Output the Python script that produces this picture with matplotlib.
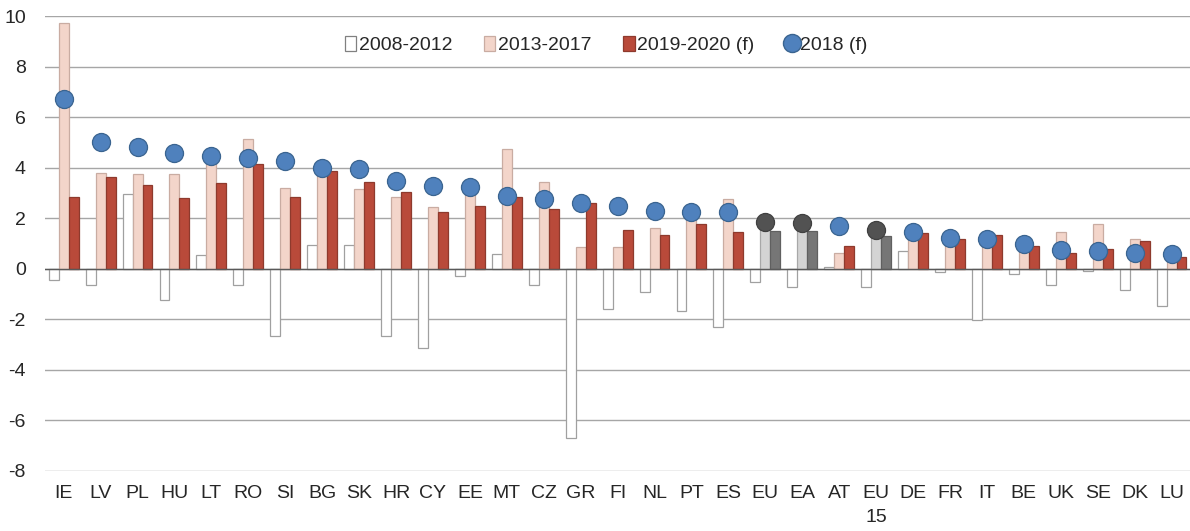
import numpy as np
import matplotlib
matplotlib.use("Agg")
import matplotlib.pyplot as plt
from matplotlib.patches import Patch
from matplotlib.lines import Line2D

plt.rcParams['font.family'] = ['Liberation Sans', 'DejaVu Sans']
plt.rcParams['axes.unicode_minus'] = False

countries = ['IE', 'LV', 'PL', 'HU', 'LT', 'RO', 'SI', 'BG', 'SK', 'HR', 'CY',
             'EE', 'MT', 'CZ', 'GR', 'FI', 'NL', 'PT', 'ES', 'EU', 'EA', 'AT',
             'EU\n15', 'DE', 'FR', 'IT', 'BE', 'UK', 'SE', 'DK', 'LU']
aggregates = ['EU', 'EA', 'EU\n15']

g_2008_2012 = [-0.44, -0.66, 2.94, -1.23, 0.53, -0.66, -2.68, 0.95, 0.95, -2.68, -3.15,
               -0.30, 0.60, -0.64, -6.70, -1.60, -0.94, -1.67, -2.32, -0.53, -0.73, 0.05,
               -0.73, 0.68, -0.13, -2.03, -0.23, -0.66, -0.10, -0.83, -1.46]
g_2013_2017 = [9.72, 3.80, 3.76, 3.76, 4.17, 5.14, 3.18, 3.90, 3.14, 2.85, 2.45,
               3.00, 4.74, 3.44, 0.86, 0.85, 1.60, 2.05, 2.77, 1.70, 1.65, 0.64,
               1.45, 1.30, 1.05, 1.20, 1.00, 1.45, 1.75, 1.19, 0.40]
g_2019_2020 = [2.85, 3.63, 3.31, 2.78, 3.40, 4.16, 2.85, 3.87, 3.42, 3.03, 2.24,
               2.49, 2.82, 2.38, 2.60, 1.55, 1.35, 1.78, 1.45, 1.51, 1.49, 0.89,
               1.28, 1.41, 1.19, 1.32, 0.91, 0.63, 0.79, 1.09, 0.45]
g_2018 = [6.73, 5.03, 4.81, 4.57, 4.45, 4.37, 4.28, 4.00, 3.93, 3.47, 3.28,
          3.25, 2.87, 2.75, 2.60, 2.50, 2.30, 2.26, 2.25, 1.84, 1.80, 1.67,
          1.54, 1.45, 1.23, 1.16, 0.99, 0.72, 0.70, 0.63, 0.60]

pink, red, blue = '#f3d5ca', '#b94a3a', '#4f81bd'
light_grey, dark_grey, dot_grey = '#d4d4d4', '#767676', '#525252'

x = np.arange(len(countries))
is_agg = np.array([c in aggregates for c in countries])
w = 0.27

fig = plt.figure(figsize=(11.9, 5.31), dpi=100)
ax = fig.add_axes([0.038, 0.1136, 0.962, 0.856])

ax.bar(x - w, g_2008_2012, w, color='white', edgecolor='#a0a0a0', linewidth=0.9, zorder=2)
ax.bar(x, g_2013_2017, w, color=np.where(is_agg, light_grey, pink),
       edgecolor=np.where(is_agg, '#a8a8a8', '#c9aca2'), linewidth=0.9, zorder=2)
ax.bar(x + w, g_2019_2020, w, color=np.where(is_agg, dark_grey, red),
       edgecolor=np.where(is_agg, '#606060', '#8e3a2d'), linewidth=0.9, zorder=2)

dots = np.array(g_2018)
ax.plot(x[~is_agg], dots[~is_agg], 'o', ms=13, color=blue, mec='#3a6490', mew=0.9,
        linestyle='none', zorder=3)
ax.plot(x[is_agg], dots[is_agg], 'o', ms=13, color=dot_grey, mec='#404040', mew=0.9,
        linestyle='none', zorder=3)

ax.set_xlim(-0.5, len(countries) - 0.5)
ax.set_ylim(-8, 10)
ax.set_yticks(np.arange(-8, 11, 2))
ax.yaxis.grid(True, color='#a6a6a6', linewidth=1.0, zorder=0)
ax.axhline(0, color='#595959', linewidth=1.0, zorder=2.5)
ax.set_axisbelow(True)
for s in ax.spines.values():
    s.set_visible(False)
ax.tick_params(length=0, labelsize=14, colors='#262626')
ax.tick_params(axis='y', pad=14)
ax.tick_params(axis='x', pad=10)
ax.set_xticks(x)
ax.set_xticklabels(countries, linespacing=1.6, va='top')

handles = [Patch(facecolor='white', edgecolor='#808080', linewidth=0.9),
           Patch(facecolor=pink, edgecolor='#c9aca2', linewidth=0.9),
           Patch(facecolor=red, edgecolor='#8e3a2d', linewidth=0.9),
           Line2D([], [], marker='o', ms=13, color=blue, mec='#3a6490', linestyle='none')]
labels = ['2008-2012', '2013-2017', '2019-2020 (f)', '2018 (f)']
ax.legend(handles, labels, loc='center', bbox_to_anchor=(0.49, 0.936), ncol=4,
          frameon=False, fontsize=14, handlelength=0.6, handleheight=0.8,
          handletextpad=0.15, columnspacing=1.6, labelcolor='#262626')

fig.savefig('out.png', dpi=100)
